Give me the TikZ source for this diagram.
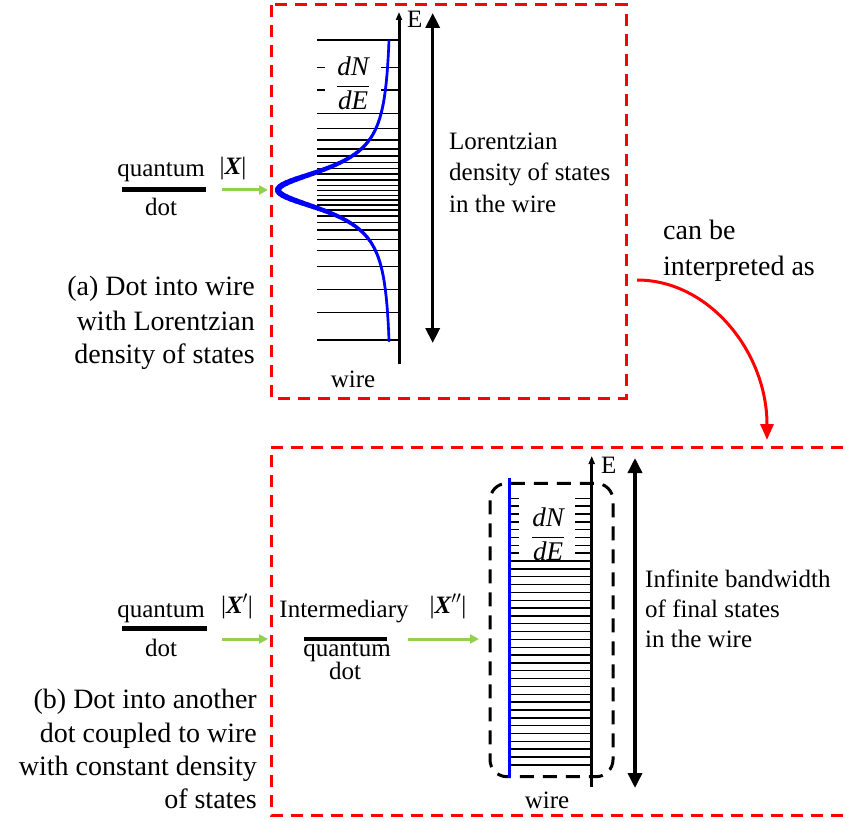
\documentclass[tikz,border=0pt]{standalone}
\usepackage{fontspec}
\setmainfont{Liberation Serif}
\usetikzlibrary{arrows.meta}
\definecolor{rdash}{RGB}{255,0,0}
\definecolor{grn}{RGB}{146,208,80}
\definecolor{blu}{RGB}{0,0,255}
\tikzset{
  reddash/.style={draw=rdash, line width=3pt, dash pattern=on 12pt off 8pt},
  lvl/.style={line width=1.4pt},
  txt/.style={font=\fontsize{25}{30}\selectfont, inner sep=0pt},
  captxt/.style={font=\fontsize{28}{34}\selectfont, inner sep=0pt},
  mth/.style={font=\fontsize{27}{30}\selectfont, inner sep=0pt, anchor=base},
  garrow/.style={draw=grn, line width=3pt, -{Triangle[length=9pt,width=9pt]}},
  darrow/.style={line width=3.5pt, {Triangle[length=15pt,width=14pt]}-{Triangle[length=15pt,width=14pt]}},
  wirearr/.style={line width=3pt, -{Triangle[length=8pt,width=6pt]}},
  dotbar/.style={line width=4.5pt},
}
\newcommand{\dNdE}{$\displaystyle\frac{\textit{dN}}{\textit{dE}}$}
\begin{document}
\begin{tikzpicture}[x=1pt,y=-1pt]
\useasboundingbox (0,0) rectangle (843,821);

% ---------- panel (a) ----------
\draw[reddash] (271,5) rectangle (626,398);
\foreach \y in {40,67.3,90,113.3,128.7,140,149,156,162.3,168.3,174,180,185.3,190.7,195.3,200,205,210,216,222.7,230,239.3,250.7,266.7,289.3,312.7,340}
  \draw[lvl] (317,\y) -- (399,\y);
\fill[white] (325,48) rectangle (381,108);
\node[mth] (dosA) at (353,92.7) {\dNdE};
% Lorentzian curve with varying width
\foreach \i in {0,...,149}{
  \pgfmathsetmacro\ya{41+2*\i}
  \pgfmathsetmacro\yb{43+2*\i}
  \pgfmathsetmacro\fa{(1/(1+((\ya-190)/25)^2)-0.027)/0.973}
  \pgfmathsetmacro\fb{(1/(1+((\yb-190)/25)^2)-0.027)/0.973}
  \pgfmathsetmacro\xa{389-111*\fa}
  \pgfmathsetmacro\xb{389-111*\fb}
  \pgfmathsetmacro\w{2.6+3.2*(\fa+\fb)/2}
  \draw[blu, line width=\w pt, line cap=round] (\xa,\ya) -- (\xb,\yb);
}
\coordinate (wAb) at (399,364);
\coordinate (wAt) at (399,12);
\draw[wirearr] (wAb) -- (wAt);
\node[txt, anchor=base west] (EA) at (407,28) {E};
\coordinate (dAt) at (432.7,13);
\coordinate (dAb) at (432.7,343);
\draw[darrow] (dAt) -- (dAb);
\node[txt, anchor=base west] (lorA) at (449,150) {Lorentzian};
\node[txt, anchor=base west] (lorB) at (449,181) {density of states};
\node[txt, anchor=base west] (lorC) at (449,212) {in the wire};
\node[txt, anchor=base] (wireA) at (353,387) {wire};

\node[txt, anchor=base] (qA) at (161,177) {quantum};
\draw[dotbar] (122,189.3) -- (206,189.3);
\node[txt, anchor=base] (dA) at (161,215) {dot};
\node[txt, anchor=base] (XA) at (233,175) {|{\bfseries\itshape X}|};
\coordinate (gA1) at (222,190);
\coordinate (gA2) at (268,190);
\draw[garrow] (gA1) -- (gA2);

\node[captxt, anchor=base east] (cA1) at (255,295) {(a) Dot into wire};
\node[captxt, anchor=base east] (cA2) at (255,330) {with Lorentzian};
\node[captxt, anchor=base east] (cA3) at (255,363) {density of states};

% ---------- interpretation arrow ----------
\node[captxt, anchor=base west] (int1) at (663,240) {can be};
\node[captxt, anchor=base west] (int2) at (663,275) {interpreted as};
\coordinate (rS) at (637,280);
\coordinate (rE) at (767,440);
\draw[draw=rdash, line width=3pt, -{Triangle[length=16pt,width=13pt]}] (rS) .. controls (709,280) and (767,352) .. (rE);

% ---------- panel (b) ----------
\draw[reddash] (843,447) -- (271,447) -- (271,815) -- (843,815);
\draw[line width=3pt, dash pattern=on 14pt off 9pt, rounded corners=17pt] (490,483.3) rectangle (613,776.7);
\foreach \k in {0,...,34}
  \draw[lvl] (509,498.3+7.84*\k) -- (592,498.3+7.84*\k);
\fill[white] (519,488) rectangle (575,557);
\node[mth] (dosB) at (548,543.4) {\dNdE};
\coordinate (bl1) at (509.3,478);
\coordinate (bl2) at (509.3,778);
\draw[blu, line width=3.3pt] (bl1) -- (bl2);
\coordinate (wBb) at (591.7,787);
\coordinate (wBt) at (591.7,456);
\draw[wirearr] (wBb) -- (wBt);
\node[txt, anchor=base west] (EB) at (601,473) {E};
\coordinate (dBt) at (635,458);
\coordinate (dBb) at (635,788);
\draw[darrow] (dBt) -- (dBb);
\node[txt, anchor=base west] (inf1) at (645,587) {Infinite bandwidth};
\node[txt, anchor=base west] (inf2) at (645,617) {of final states};
\node[txt, anchor=base west] (inf3) at (645,647) {in the wire};
\node[txt, anchor=base] (wireB) at (547,808) {wire};

\node[txt, anchor=base] (qB) at (161,617) {quantum};
\draw[dotbar] (122,628.7) -- (207,628.7);
\node[txt, anchor=base] (dB) at (161,656) {dot};
\node[txt, anchor=base] (XB) at (237,613) {|{\bfseries\itshape X}$'$|};
\coordinate (gB1) at (222,639);
\coordinate (gB2) at (268,639);
\draw[garrow] (gB1) -- (gB2);

\node[txt, anchor=base] (iB) at (344,617) {Intermediary};
\draw[dotbar] (304,639) -- (387,639);
\node[txt, anchor=base] (qB2) at (347,656) {quantum};
\node[txt, anchor=base] (dB2) at (345,679) {dot};
\node[txt, anchor=base] (XB2) at (448,613) {|{\bfseries\itshape X}$''$|};
\coordinate (gC1) at (408,639);
\coordinate (gC2) at (479,639);
\draw[garrow] (gC1) -- (gC2);

\node[captxt, anchor=base east] (cB1) at (257,708) {(b) Dot into another};
\node[captxt, anchor=base east] (cB2) at (257,742) {dot coupled to wire};
\node[captxt, anchor=base east] (cB3) at (257,775) {with constant density};
\node[captxt, anchor=base east] (cB4) at (257,808) {of states};
\end{tikzpicture}
\end{document}
